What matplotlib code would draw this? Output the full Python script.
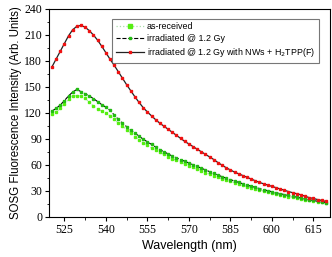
import numpy as np
import matplotlib
matplotlib.use("Agg")
import matplotlib.pyplot as plt
from matplotlib.ticker import MultipleLocator

# wavelength grid (nm)
wl = [520.5, 522, 523.5, 525, 526.5, 528, 529.5, 531, 532.5, 534, 535.5, 537, 538.5,
      540, 541.5, 543, 544.5, 546, 547.5, 549, 550.5, 552, 553.5, 555, 556.5, 558,
      559.5, 561, 562.5, 564, 565.5, 567, 568.5, 570, 571.5, 573, 574.5, 576, 577.5,
      579, 580.5, 582, 583.5, 585, 586.5, 588, 589.5, 591, 592.5, 594, 595.5, 597,
      598.5, 600, 601.5, 603, 604.5, 606, 607.5, 609, 610.5, 612, 613.5, 615, 616.5,
      618, 619.5]

# as-received
as_received = [119, 121, 125, 130, 135.5, 139, 140, 139.5, 137, 132, 128, 124.5, 122,
               119.5, 116.5, 113, 108, 104.5, 100.5, 96.5, 92.5, 89, 85.5, 82.5, 79.5, 77,
               74.5, 72, 69.5, 67, 65, 63, 61, 59, 57, 55, 53, 51, 49,
               47.5, 45.8, 44, 42.3, 40.7, 39.2, 37.7, 36.2, 34.8, 33.4, 32.1, 30.9, 29.7,
               28.5, 27.4, 26.3, 25.2, 24.2, 23.2, 22.3, 21.4, 20.5, 19.6, 18.8, 18, 17.2,
               16.4, 15.6]

# irradiated @ 1.2 Gy
irradiated = [122, 125, 129, 134, 139.5, 144, 147, 144.5, 142, 139.5, 136.5, 133, 129.5,
              126.5, 123, 117.5, 112.5, 108, 104, 100, 96.5, 93, 89.5, 86.5, 83.5, 80.5,
              77.5, 75, 72.5, 70, 68, 66, 64, 62, 60, 58, 56, 54, 52,
              50, 48, 46.2, 44.5, 42.8, 41.2, 39.6, 38, 36.6, 35.2, 33.8, 32.5, 31.2,
              30, 28.8, 27.7, 26.6, 25.5, 24.5, 23.5, 22.5, 21.5, 20.5, 19.6, 18.7, 17.8,
              16.9, 16]

# irradiated @ 1.2 Gy with NWs + H2TPP(F)
with_nws = [173, 182, 191, 200, 209, 216, 220, 221, 219, 215, 210, 204, 197,
            189.5, 182, 175, 167.5, 160, 152.5, 145.5, 138.5, 132, 126, 121, 116.5, 112,
            108, 104.5, 101, 97.5, 94, 90.5, 87, 84, 81, 78, 75, 72, 69,
            66, 62.5, 59.5, 56.5, 54, 51.5, 49.5, 47.5, 45.5, 43.5, 41.5, 39.5, 38,
            36.5, 35, 33.5, 32, 30.5, 29, 27.7, 26.5, 25.3, 23.5, 22, 21, 19.8,
            18.7, 17.6]

fig = plt.figure(figsize=(3.32, 2.57), dpi=100)
ax = fig.add_axes([0.148, 0.157, 0.846, 0.808])

ax.plot(wl, as_received, linestyle=':', color='#aaddaa', linewidth=0.9,
        marker='s', markersize=1.7, markerfacecolor='#55ee11', markeredgecolor='#55ee11',
        label='as-received')
ax.plot(wl, irradiated, linestyle='--', color='black', linewidth=0.8,
        marker='s', markersize=1.5, markerfacecolor='#22bb11', markeredgecolor='#22bb11',
        label='irradiated @ 1.2 Gy')
ax.plot(wl, with_nws, linestyle='-', color='#222222', linewidth=0.9,
        marker='s', markersize=1.5, markerfacecolor='#ee1111', markeredgecolor='#ee1111',
        label='irradiated @ 1.2 Gy with NWs + H$_2$TPP(F)')

ax.set_xlim(519.5, 621)
ax.set_ylim(0, 240)
ax.xaxis.set_major_locator(MultipleLocator(15))
ax.xaxis.set_minor_locator(MultipleLocator(7.5))
ax.yaxis.set_major_locator(MultipleLocator(30))
ax.yaxis.set_minor_locator(MultipleLocator(15))
ax.tick_params(which='both', direction='out', top=False, right=False,
               labelsize=8.5, pad=2)
ax.tick_params(which='major', length=3)
ax.tick_params(which='minor', length=1.8)
for lbl in ax.get_xticklabels() + ax.get_yticklabels():
    lbl.set_family('Liberation Serif')

ax.set_xlabel('Wavelength (nm)', fontsize=9, family='Liberation Sans', labelpad=3)
ax.set_ylabel('SOSG Fluorescence Intensity (Arb. Units)', fontsize=8.3,
              family='Liberation Sans', labelpad=2)

leg = ax.legend(loc='upper right', bbox_to_anchor=(0.975, 0.975),
                prop={'family': 'Liberation Sans', 'size': 6.4},
                frameon=True, fancybox=False, edgecolor='#555555',
                handlelength=3.2, handletextpad=0.3, borderpad=0.4,
                labelspacing=0.35, markerscale=1.3)
leg.get_frame().set_linewidth(0.8)

fig.savefig('out.png', dpi=100)
